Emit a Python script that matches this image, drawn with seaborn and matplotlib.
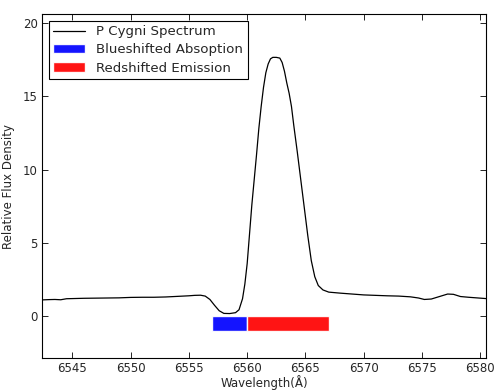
import numpy as np
import pandas as pd
import matplotlib
matplotlib.use("Agg")
import matplotlib.pyplot as plt
import seaborn as sns

# P Cygni H-alpha profile
wavelength = [6542.4, 6543.0, 6543.5, 6544.0, 6544.5, 6545.0, 6546.0, 6547.0, 6548.0, 6549.0,
              6550.0, 6551.0, 6552.0, 6553.0, 6554.0, 6555.0, 6555.5, 6556.0, 6556.4, 6556.8,
              6557.2, 6557.6, 6558.0, 6558.5, 6559.0, 6559.3, 6559.6, 6559.8, 6560.0, 6560.2,
              6560.4, 6560.6, 6560.8, 6561.0, 6561.2, 6561.4, 6561.6, 6561.8, 6562.0, 6562.2,
              6562.5, 6562.8, 6563.0, 6563.2, 6563.4, 6563.6, 6563.8, 6564.0, 6564.3, 6564.6,
              6564.9, 6565.2, 6565.5, 6565.8, 6566.1, 6566.5, 6567.0, 6568.0, 6569.0, 6570.0,
              6571.0, 6572.0, 6573.0, 6574.0, 6574.7, 6575.2, 6575.8, 6576.5, 6577.2, 6577.7,
              6578.3, 6579.0, 6580.0, 6580.5]
flux = [1.12, 1.14, 1.15, 1.13, 1.20, 1.21, 1.23, 1.24, 1.25, 1.26,
        1.29, 1.30, 1.30, 1.32, 1.36, 1.40, 1.43, 1.44, 1.38, 1.15,
        0.75, 0.38, 0.20, 0.19, 0.25, 0.45, 1.20, 2.20, 3.60, 5.60,
        7.60, 9.30, 11.0, 12.8, 14.3, 15.6, 16.6, 17.2, 17.55, 17.65,
        17.65, 17.6, 17.3, 16.7, 15.9, 15.2, 14.3, 13.0, 11.2, 9.3,
        7.4, 5.5, 3.8, 2.7, 2.1, 1.8, 1.65, 1.58, 1.52, 1.46,
        1.43, 1.40, 1.38, 1.33, 1.25, 1.15, 1.18, 1.35, 1.52, 1.50,
        1.35, 1.30, 1.24, 1.21]

# shaded ranges under the line
blue_range = [6557, 6560]
red_range = [6560, 6567]

df = pd.DataFrame({"wavelength": wavelength, "flux": flux})

sns.set_style("ticks")
plt.rcParams.update({
    "xtick.direction": "in", "ytick.direction": "in",
    "xtick.top": True, "ytick.right": True,
    "font.size": 8.5,
})

fig = plt.figure(figsize=(4.95, 3.91), dpi=100)
ax = fig.add_axes([0.085, 0.084, 0.897, 0.880])

sns.lineplot(data=df, x="wavelength", y="flux", color="black", linewidth=0.9,
             label="P Cygni Spectrum", ax=ax)
ax.barh(-0.5, blue_range[1] - blue_range[0], left=blue_range[0], height=1,
        color="blue", alpha=0.92, label="Blueshifted Absoption")
ax.barh(-0.5, red_range[1] - red_range[0], left=red_range[0], height=1,
        color="red", alpha=0.92, label="Redshifted Emission")

ax.set_xlim(6542.4, 6580.5)
ax.set_ylim(-2.85, 20.6)
ax.set_xticks(range(6545, 6581, 5))
ax.set_yticks([0, 5, 10, 15, 20])
ax.set_xlabel("Wavelength(Å)", fontsize=8.5, labelpad=0)
ax.set_ylabel("Relative Flux Density", fontsize=8.5, labelpad=6)
ax.tick_params(length=4, width=0.6, labelsize=8.5, color="black", pad=3)
for s in ax.spines.values():
    s.set_linewidth(0.8)
    s.set_color("black")

leg = ax.legend(loc="upper left", fontsize=9.6, fancybox=False, framealpha=1,
                edgecolor="black", borderaxespad=0.5, handlelength=2.4,
                labelspacing=0.38, borderpad=0.35)
leg.get_frame().set_linewidth(0.8)

fig.savefig("out.png", dpi=100, facecolor="white")
